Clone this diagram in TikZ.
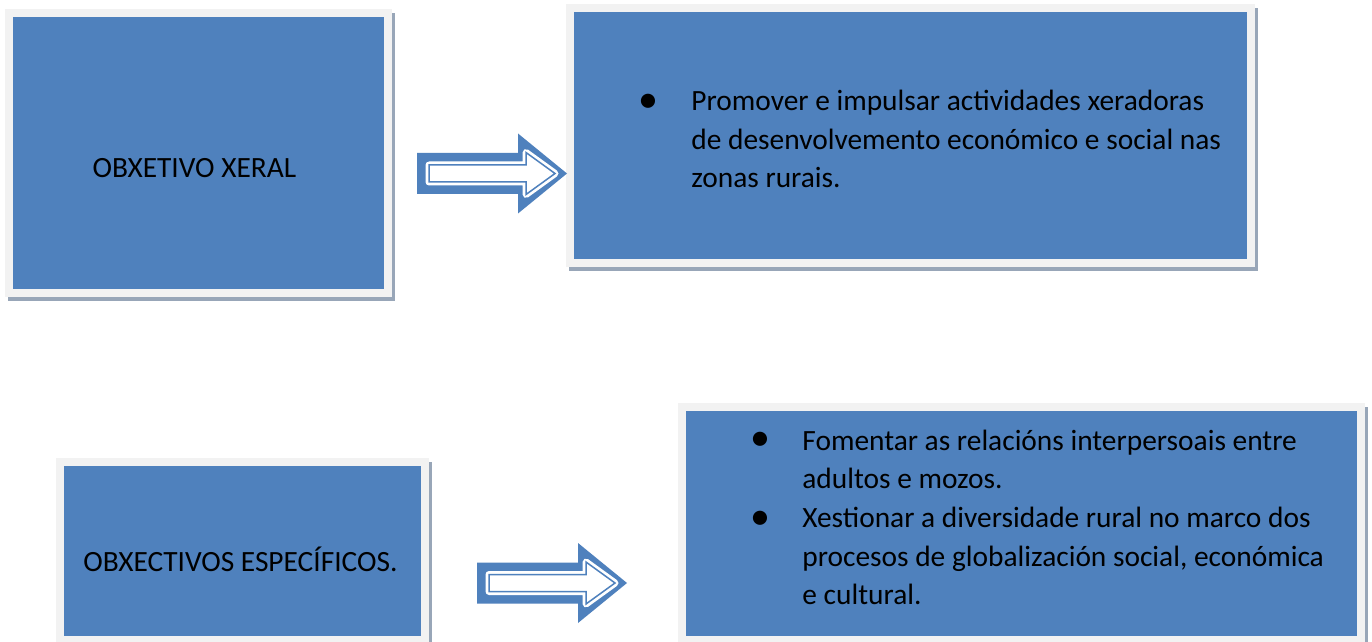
\documentclass[tikz,border=0pt]{standalone}
\usepackage{fontspec}
\setmainfont{Carlito}
\usetikzlibrary{calc}
\definecolor{boxblue}{HTML}{4F81BD}
\definecolor{ringgray}{HTML}{F2F2F2}
\definecolor{shadowgray}{HTML}{98A6B8}
\newcommand\hollowarrow[2]{%
  \fill[boxblue] ($(#1)+(0,-20.5)$) -- ($(#2)+(-49,-20.5)$) -- ($(#2)+(-49,-40)$) -- (#2)
     -- ($(#2)+(-49,40)$) -- ($(#2)+(-49,20.5)$) -- ($(#1)+(0,20.5)$) -- cycle;
  \filldraw[white, line width=3.5pt, line join=round] ($(#1)+(12,-8.5)$) -- ($(#2)+(-41,-8.5)$) -- ($(#2)+(-41,-21)$)
     -- ($(#2)+(-12,0)$) -- ($(#2)+(-41,21)$) -- ($(#2)+(-41,8.5)$) -- ($(#1)+(12,8.5)$) -- cycle;
  \draw[boxblue, line width=0.75pt] ($(#1)+(12,-8.5)$) -- ($(#2)+(-41,-8.5)$) -- ($(#2)+(-41,-21)$)
     -- ($(#2)+(-12,0)$) -- ($(#2)+(-41,21)$) -- ($(#2)+(-41,8.5)$) -- ($(#1)+(12,8.5)$) -- cycle;
}
\begin{document}
\begin{tikzpicture}[x=0.5pt,y=-0.5pt,
  box/.style={rectangle, fill=boxblue, draw=ringgray, line width=4pt, inner sep=0pt, outer sep=0pt,
    preaction={draw=shadowgray, fill=shadowgray, line width=4pt,
      transform canvas={shift={(1.5pt,-2pt)}}}},
  txt/.style={font=\fontsize{14.7pt}{19.25pt}\selectfont, inner sep=0pt, text=black, anchor=base west},
  ctxt/.style={font=\fontsize{14.7pt}{19.25pt}\selectfont, inner sep=0pt, text=black, anchor=base},
  bul/.style={font=\fontsize{20pt}{20pt}\selectfont, inner sep=0pt, text=black, anchor=center}]
\useasboundingbox (0,0) rectangle (1372,642);
\fill[white] (0,0) rectangle (1372,642);

% boxes
\node[box, minimum width=189.5pt, minimum height=140pt] (b1) at (198.5,153) {};
\node[box, minimum width=340.5pt, minimum height=127pt] (b2) at (910.5,135.5) {};
\node[box, minimum width=182.25pt, minimum height=89.25pt] (b4) at (242.25,550.75) {};
\node[box, minimum width=339.75pt, minimum height=116.5pt] (b3) at (1021.25,523.5) {};

% texts
\node[ctxt] (t1) at (194.5,177) {OBXETIVO XERAL};
\node[ctxt] (t4) at (240.5,571.5) {OBXECTIVOS ESPECÍFICOS.};

\node[bul] (p1) at (648.5,103.5) {•};
\node[txt] (l21) at (691,111) {Promover e impulsar actividades xeradoras};
\node[txt] (l22) at (691,149.5) {de desenvolvemento económico e social nas};
\node[txt] (l23) at (691,188) {zonas rurais.};

\node[bul] (p2) at (760,441.5) {•};
\node[txt] (l31) at (802,450) {Fomentar as relacións interpersoais entre};
\node[txt] (l32) at (802,488.7) {adultos e mozos.};
\node[bul] (p3) at (760,520) {•};
\node[txt] (l33) at (802,527.4) {Xestionar a diversidade rural no marco dos};
\node[txt] (l34) at (802,566) {procesos de globalización social, económica};
\node[txt] (l35) at (802,604.7) {e cultural.};

% connectors (hollow block arrows)
\coordinate (a1s) at (417,173.5);
\coordinate (a1e) at (567,173.5);
\coordinate (a2s) at (477,583);
\coordinate (a2e) at (627,583);
\hollowarrow{a1s}{a1e}
\hollowarrow{a2s}{a2e}
\end{tikzpicture}
\end{document}
